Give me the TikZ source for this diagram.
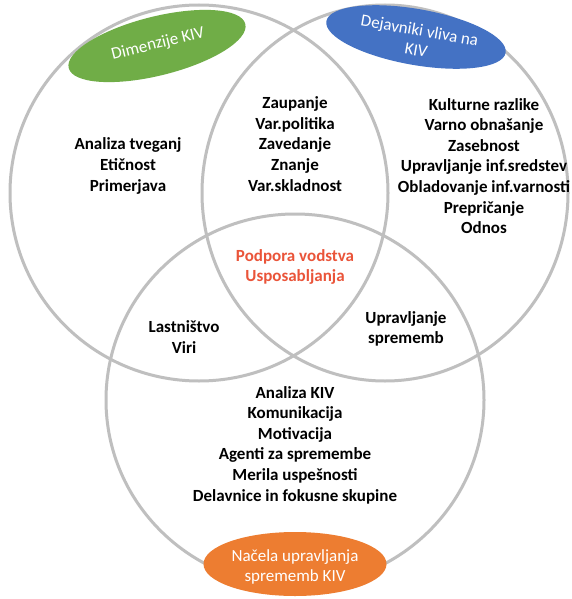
\documentclass[tikz,border=0pt]{standalone}
\usepackage{fontspec}
\setmainfont{Carlito}
\usetikzlibrary{shapes.geometric}
\definecolor{ringc}{HTML}{BFBFBF}
\definecolor{grn}{HTML}{70AD47}
\definecolor{blu}{HTML}{4472C4}
\definecolor{org}{HTML}{ED7D31}
\definecolor{redt}{HTML}{EA5439}
\tikzset{
  ring/.style={draw=ringc, line width=3pt, ellipse, inner sep=0pt},
  tag/.style={ellipse, inner sep=0pt, draw=none},
  lbl/.style={font=\fontsize{17}{20.6}\selectfont\bfseries, align=center, text=black, inner sep=0pt},
  taglbl/.style={font=\fontsize{17}{20}\selectfont, align=center, text=white, inner sep=0pt}
}
\begin{document}
\begin{tikzpicture}[x=1pt,y=-1pt]
\useasboundingbox[fill=white] (0,0) rectangle (571,599);
% circles
\node[ring, minimum width=378pt, minimum height=376pt] (L) at (199,193) {};
\node[ring, minimum width=366pt, minimum height=376pt] (R) at (385,193) {};
\node[ring, minimum width=378pt, minimum height=372pt] (B) at (295,400) {};
% tags
\node[tag, fill=grn, rotate=14, minimum width=182pt, minimum height=59pt] (gt) at (157,46) {};
\node[tag, fill=blu, rotate=-10, minimum width=182pt, minimum height=56pt] (bt) at (416,37) {};
\node[tag, fill=org, minimum width=183pt, minimum height=64pt] (ot) at (295,564) {};
\node[taglbl, rotate=14] (gtl) at (158,44) {Dimenzije KIV};
\node[taglbl, rotate=-10] (btl) at (418,40) {Dejavniki vliva na\\KIV};
\node[taglbl] (otl) at (295,567) {Načela upravljanja\\sprememb KIV};
% texts
\node[lbl] (tl) at (128,166) {Analiza tveganj\\Etičnost\\Primerjava};
\node[lbl] (tm) at (295,144) {Zaupanje\\Var.politika\\Zavedanje\\Znanje\\Var.skladnost};
\node[lbl] (tr) at (484,166) {Kulturne razlike\\Varno obnašanje\\Zasebnost\\Upravljanje inf.sredstev\\Obladovanje inf.varnosti\\Prepričanje\\Odnos};
\node[lbl, text=redt] (tc) at (295,267) {Podpora vodstva\\Usposabljanja};
\node[lbl] (tlb) at (184,337) {Lastništvo\\Viri};
\node[lbl] (trb) at (406,329) {Upravljanje\\sprememb};
\node[lbl] (tb) at (295,445) {Analiza KIV\\Komunikacija\\Motivacija\\Agenti za spremembe\\Merila uspešnosti\\Delavnice in fokusne skupine};
\end{tikzpicture}
\end{document}
